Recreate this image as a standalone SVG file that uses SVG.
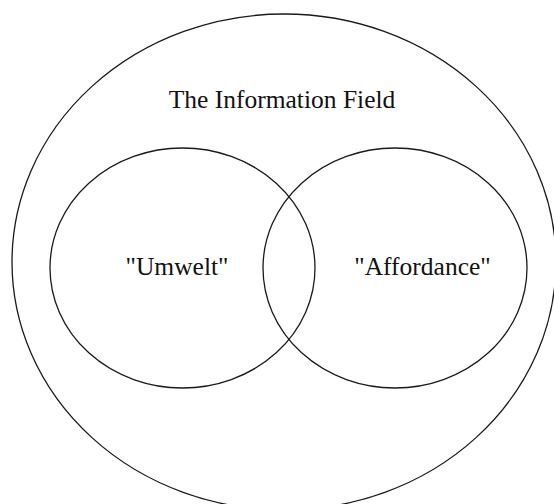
<svg xmlns="http://www.w3.org/2000/svg" width="554" height="504" viewBox="0 0 554 504">
<style>
.shape{fill:none;stroke:#1a1a1a;stroke-width:1.3}
.lbl{font-family:'Liberation Serif','Times New Roman',Times,serif;font-size:25.5px;fill:#111;text-anchor:middle}
</style>
<rect width="554" height="504" fill="#fff"/>
<g id="information-field">
<ellipse class="shape" cx="284" cy="262" rx="272" ry="248"/>
<text class="lbl" x="282" y="107.5">The Information Field</text>
</g>
<g id="umwelt">
<ellipse class="shape" cx="182.5" cy="268" rx="132.5" ry="120"/>
<text class="lbl" x="177" y="275">"Umwelt"</text>
</g>
<g id="affordance">
<ellipse class="shape" cx="395" cy="268" rx="132" ry="120"/>
<text class="lbl" x="422.5" y="275">"Affordance"</text>
</g>
<g id="connectors"/>
</svg>
